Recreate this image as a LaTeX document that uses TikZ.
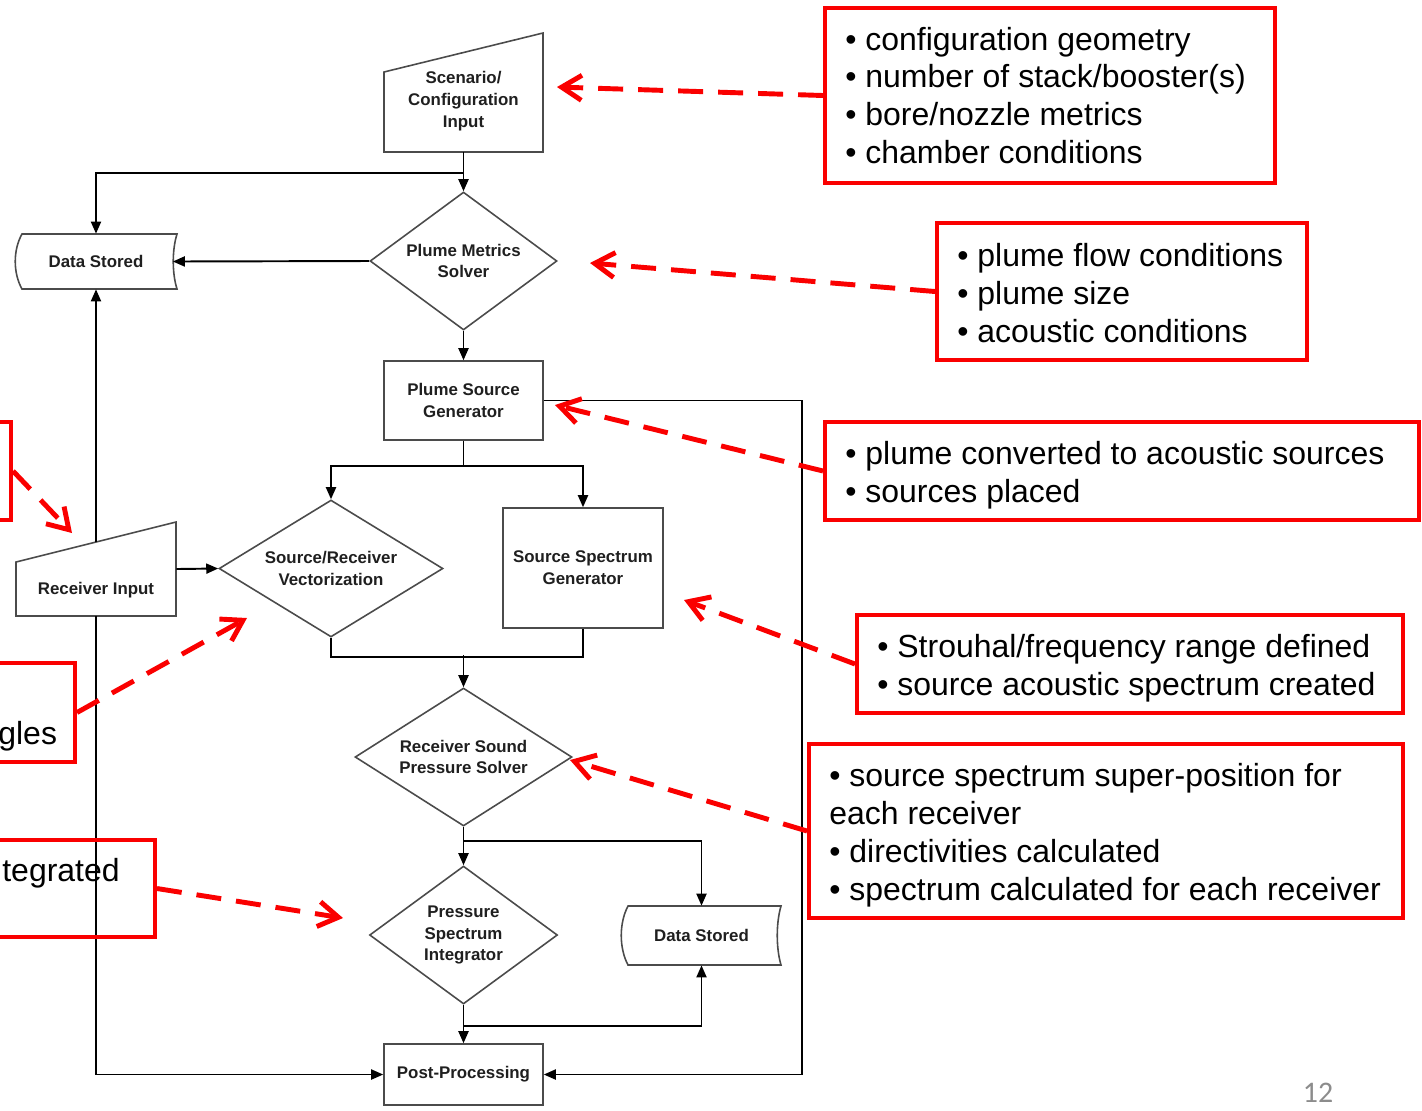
\documentclass[tikz,border=0pt]{standalone}
\usepackage{fontspec}
\setmainfont{Liberation Sans}
\newfontfamily\calibfont{Carlito}
\usetikzlibrary{shapes.geometric,arrows.meta,calc}
\definecolor{redc}{RGB}{250,0,0}
\definecolor{shp}{RGB}{75,75,75}
\definecolor{pgnum}{RGB}{140,140,140}
\begin{document}
\begin{tikzpicture}[x=0.02cm,y=-0.02cm,
  fc/.style={font=\bfseries\fontsize{9.6pt}{12.4pt}\selectfont, align=center, text=black!88, inner sep=0pt},
  anchorbox/.style={rectangle, draw=none, inner sep=0pt},
  flowbox/.style={fc, rectangle, draw=shp, line width=0.9pt},
  dia/.style={fc, diamond, draw=shp, line width=0.9pt},
  outl/.style={draw=shp, line width=0.9pt},
  ln/.style={line width=1.1pt, black},
  arr/.style={ln, -{Triangle[length=0.24cm,width=0.2cm]}},
  redbox/.style={rectangle, draw=redc, line width=2.3pt, inner sep=0pt},
  redtxt/.style={font=\fontsize{18.2pt}{21.6pt}\selectfont, align=left, inner sep=0pt, anchor=west},
  redarr/.style={draw=redc, line width=2.8pt, dash pattern=on 0.5cm off 0.3cm, -{Straight Barb[length=0.4cm,width=0.5cm]}}
]
\useasboundingbox (0,0) rectangle (1422,1110);
\fill[white] (0,0) rectangle (1422,1110);
\clip (0,0) rectangle (1422,1110);

% ---------- flowchart nodes ----------
\node[anchorbox, minimum width=3.18cm, minimum height=2.38cm] (sci) at (463.5,92.5) {};
\draw[outl] (384,72) -- (543,33) -- (543,152) -- (384,152) -- cycle;
\node[fc] (scit) at (463.5,101) {Scenario/\\Configuration\\Input};

\node[dia, shape aspect=1.355, minimum width=3.74cm, minimum height=2.76cm] (pms) at (463.5,261) {Plume Metrics\\Solver};

\node[anchorbox, minimum width=3.22cm, minimum height=1.1cm] (ds1) at (96,261.5) {};
\draw[outl] (22,234) -- (177,234) .. controls (172,250) and (172,273) .. (177,289) -- (22,289) .. controls (13,273) and (13,250) .. (22,234) -- cycle;
\node[fc] (ds1t) at (96,261.5) {Data Stored};

\node[flowbox, minimum width=3.18cm, minimum height=1.58cm] (psg) at (463.5,400.5) {Plume Source\\Generator};

\node[dia, shape aspect=1.63, minimum width=4.48cm, minimum height=2.74cm] (srv) at (331,568.5) {Source/Receiver\\Vectorization};

\node[flowbox, minimum width=3.2cm, minimum height=2.4cm] (ssg) at (583,568) {Source Spectrum\\Generator};

\node[anchorbox, minimum width=3.2cm, minimum height=1.88cm] (ri) at (96,569) {};
\draw[outl] (16,562) -- (176,522) -- (176,616) -- (16,616) -- cycle;
\node[fc] (rit) at (96,590) {Receiver Input};
\coordinate (riTop) at (96,542);

\node[dia, shape aspect=1.57, minimum width=4.34cm, minimum height=2.76cm] (rsp) at (463.5,757) {Receiver Sound\\Pressure Solver};

\node[dia, shape aspect=1.36, minimum width=3.76cm, minimum height=2.76cm] (psi) at (463.5,935) {Pressure\\Spectrum\\Integrator};

\node[anchorbox, minimum width=3.18cm, minimum height=1.18cm] (ds2) at (701.5,935.5) {};
\draw[outl] (628,906) -- (781,906) .. controls (776,923) and (776,948) .. (781,965) -- (628,965) .. controls (619,948) and (619,923) .. (628,906) -- cycle;
\node[fc] (ds2t) at (701.5,935.5) {Data Stored};

\node[flowbox, minimum width=3.18cm, minimum height=1.22cm] (pp) at (463.5,1074.5) {Post-Processing};

% ---------- connectors ----------
\draw[arr] (sci.south) -- (pms.north);
\draw[arr] ($(sci.south)!0.52!(pms.north)$) -| (ds1.north);
\draw[arr] (pms.west) -- ($(ds1.east)+(-4,0)$);
\draw[arr] (pms.south) -- (psg.north);
\draw[arr] (psg.east) -- ++(258,0) |- (pp.east);
\draw[arr] (psg.south) -- ++(0,25) -| (srv.north);
\draw[arr] (psg.south) -- ++(0,25) -| (ssg.north);
\draw[ln] (srv.south) |- ($(ssg.south)+(0,28)$) -- (ssg.south);
\draw[arr] ($(rsp.north)+(0,-32)$) -- (rsp.north);
\draw[arr] (ri.east) -- (srv.west);
\draw[arr] (riTop) -- (ds1.south);
\draw[arr] (ri.south) |- (pp.west);
\draw[arr] (rsp.south) -- (psi.north);
\draw[arr] ($(rsp.south)+(0,14)$) -| (ds2.north);
\draw[arr] (psi.south) -- (pp.north);
\draw[arr] ($(psi.south)+(0,21)$) -| (ds2.south);

% ---------- red annotation boxes ----------
\node[redbox, minimum width=9cm, minimum height=3.5cm] (A) at (1050,95.5) {};
\node[redtxt] (At) at (845,95.5) {• configuration geometry\\• number of stack/booster(s)\\• bore/nozzle metrics\\• chamber conditions};

\node[redbox, minimum width=7.4cm, minimum height=2.74cm] (B) at (1122,291.5) {};
\node[redtxt] (Bt) at (957,293) {• plume flow conditions\\• plume size\\• acoustic conditions};

\node[redbox, minimum width=11.88cm, minimum height=1.96cm] (C) at (1122,471) {};
\node[redtxt] (Ct) at (845,475) {• plume converted to acoustic sources\\• sources placed};

\node[redbox, minimum width=10.92cm, minimum height=1.96cm] (D) at (1130,664) {};
\node[redtxt] (Dt) at (877,668) {• Strouhal/frequency range defined\\• source acoustic spectrum created};

\node[redbox, minimum width=11.88cm, minimum height=3.48cm] (E) at (1106,831) {};
\node[redtxt] (Et) at (829,835) {• source spectrum super-position for\\each receiver\\• directivities calculated\\• spectrum calculated for each receiver};

\node[redbox, minimum width=4.22cm, minimum height=1.96cm] (F) at (-94.5,471) {};
\node[redbox, minimum width=7.5cm, minimum height=1.98cm] (G) at (-112.5,712.5) {};
\node[redtxt] (Gt) at (-2,736) {gles};
\node[redbox, minimum width=9.1cm, minimum height=1.94cm] (H) at (-72.5,888.5) {};
\node[redtxt] (Ht) at (2,873) {tegrated};

% ---------- red dashed arrows ----------
\coordinate (tA) at (557,87);
\coordinate (tB) at (590,263);
\coordinate (tC) at (555,405);
\coordinate (tD) at (684,600);
\coordinate (tE) at (570,760);
\coordinate (tF) at (72,533);
\coordinate (tG) at (247,618);
\coordinate (tH) at (343,918);
\draw[redarr] (A.west) -- (tA);
\draw[redarr] (B.west) -- (tB);
\draw[redarr] (C.west) -- (tC);
\draw[redarr] (D.west) -- (tD);
\draw[redarr] (E.west) -- (tE);
\draw[redarr] (F.east) -- (tF);
\draw[redarr] (G.east) -- (tG);
\draw[redarr] (H.east) -- (tH);

% ---------- page number ----------
\node[font=\calibfont\fontsize{17pt}{20pt}\selectfont, text=pgnum, inner sep=0pt] (pg) at (1318,1093) {12};
\end{tikzpicture}
\end{document}
